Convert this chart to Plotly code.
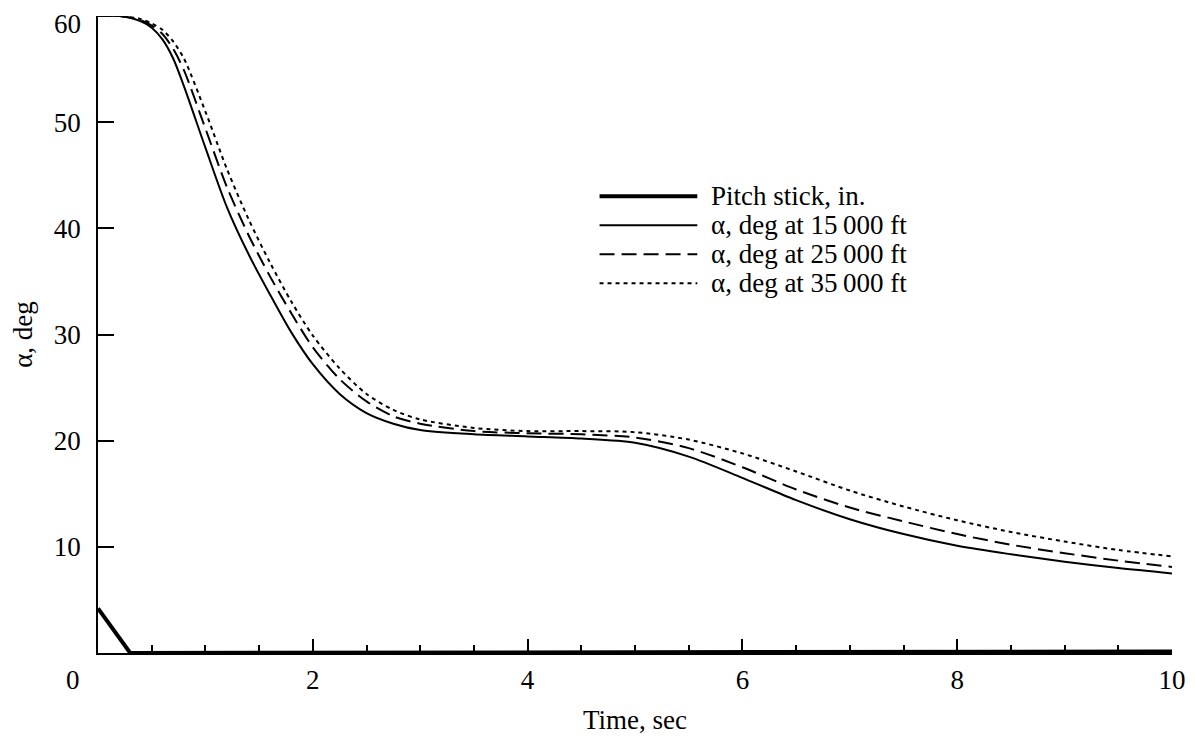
import plotly.graph_objects as go

# ---------------- data ----------------
time_s = [0, 0.2, 0.4, 0.5, 0.6, 0.7, 0.8, 1.0, 1.2, 1.4, 1.6, 1.8, 2.0, 2.25, 2.5,
          2.75, 3.0, 3.5, 4.0, 4.5, 5.0, 5.5, 6.0, 6.5, 7.0, 7.5, 8.0, 8.5, 9.0, 9.5, 10.0]

alpha_15k = [60.0, 60.0, 59.5, 58.9, 57.8, 56.0, 53.4, 47.6, 42.0, 37.6, 33.8, 30.2, 27.2, 24.4, 22.6,
             21.6, 21.0, 20.6, 20.4, 20.2, 19.8, 18.5, 16.5, 14.4, 12.6, 11.2, 10.1, 9.3, 8.6, 8.0, 7.5]

alpha_25k = [60.0, 60.0, 59.6, 59.1, 58.3, 56.9, 54.9, 49.4, 43.9, 39.4, 35.5, 32.0, 28.8, 25.8, 23.7,
             22.3, 21.6, 20.9, 20.7, 20.6, 20.3, 19.3, 17.5, 15.4, 13.7, 12.4, 11.2, 10.2, 9.4, 8.7, 8.1]

alpha_35k = [60.0, 60.0, 59.7, 59.3, 58.7, 57.6, 56.0, 51.0, 45.6, 40.9, 36.8, 33.1, 29.9, 26.8, 24.4,
             22.9, 22.0, 21.2, 20.9, 20.9, 20.8, 20.1, 18.8, 17.1, 15.3, 13.8, 12.5, 11.4, 10.5, 9.7, 9.1]

pitch_time = [0.0, 0.3, 10.0]
pitch_stick = [4.2, 0.0, 0.15]

x_tick_vals = [2, 4, 6, 8, 10]
y_tick_vals = [10, 20, 30, 40, 50]
y_top_label = 60          # top label, drawn just below the top edge as in the original print
origin_label = 0

legend_labels = ["Pitch stick, in.", "α, deg at 15\u2009000 ft",
                 "α, deg at 25\u2009000 ft", "α, deg at 35\u2009000 ft"]

# ---------------- styles ----------------
FONT = "Liberation Serif, Times New Roman, serif"
FS = 27
styles = [
    dict(width=4, dash="solid"),
    dict(width=2, dash="solid"),
    dict(width=2, dash="15px,7px"),
    dict(width=2, dash="4px,4px"),
]

fig = go.Figure()
series = [(pitch_time, pitch_stick), (time_s, alpha_15k), (time_s, alpha_25k), (time_s, alpha_35k)]
for (xs, ys), st, name in zip(series, styles, legend_labels):
    fig.add_trace(go.Scatter(
        x=xs, y=ys, mode="lines", name=name, showlegend=False, cliponaxis=False,
        line=dict(color="black", width=st["width"], dash=st["dash"],
                  shape="spline" if xs is time_s else "linear", smoothing=0.8),
        hoverinfo="skip"))

# custom legend (long key lines, like the original figure)
leg_x0, leg_x1, leg_text_x = 0.467, 0.558, 0.569
leg_y0, leg_step = 0.717, 0.0455
shapes = []
annotations = []
for i, (st, name) in enumerate(zip(styles, legend_labels)):
    yy = leg_y0 - i * leg_step
    shapes.append(dict(type="line", xref="paper", yref="paper", x0=leg_x0, x1=leg_x1,
                       y0=yy, y1=yy, line=dict(color="black", width=st["width"], dash=st["dash"])))
    annotations.append(dict(xref="paper", yref="paper", x=leg_text_x, y=yy, text=name,
                            showarrow=False, xanchor="left", yanchor="middle",
                            font=dict(family=FONT, size=FS, color="black")))

# origin label and top y label
annotations.append(dict(xref="x", yref="y", x=0, y=0, text=str(origin_label), showarrow=False,
                        xanchor="center", yanchor="middle", xshift=-25, yshift=-27,
                        font=dict(family=FONT, size=FS, color="black")))
annotations.append(dict(xref="x", yref="y", x=0, y=y_top_label, text=str(y_top_label),
                        showarrow=False, xanchor="right", yanchor="top", borderpad=0,
                        xshift=-16, yshift=8,
                        font=dict(family=FONT, size=FS, color="black")))

fig.update_layout(
    template="none",
    width=1195, height=736,
    margin=dict(l=90, r=31, t=8, b=91, autoexpand=False),
    paper_bgcolor="white", plot_bgcolor="white",
    font=dict(family=FONT, size=FS, color="black"),
    shapes=shapes, annotations=annotations,
    xaxis=dict(range=[0, 10], tickmode="array", tickvals=x_tick_vals, automargin=False,
               ticks="inside", ticklen=14, tickwidth=1.5, tickcolor="black",
               showline=True, linecolor="black", linewidth=1.5,
               showgrid=False, zeroline=False,
               tickfont=dict(family=FONT, size=FS),
               ticklabelstandoff=2, ticklabeloverflow="allow",
               minor=dict(tickmode="linear", tick0=0, dtick=0.5, ticks="inside",
                          ticklen=8, tickwidth=1.5, tickcolor="black", showgrid=False),
               title=dict(text="Time, sec", font=dict(family=FONT, size=FS), standoff=16)),
    yaxis=dict(range=[0, 60], tickmode="array", tickvals=y_tick_vals, automargin=False,
               ticks="inside", ticklen=16, tickwidth=1.5, tickcolor="black",
               showline=True, linecolor="black", linewidth=1.5,
               showgrid=False, zeroline=False,
               tickfont=dict(family=FONT, size=FS),
               ticklabelstandoff=10, ticklabeloverflow="allow",
               title=dict(text="α, deg", font=dict(family=FONT, size=FS), standoff=30)),
)

fig.write_html("out.html")
